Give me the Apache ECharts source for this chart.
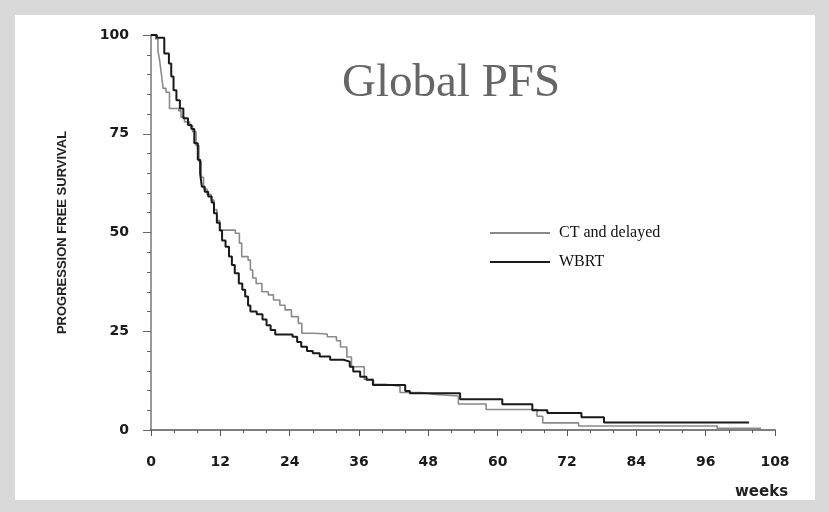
<!DOCTYPE html>
<html>
<head>
<meta charset="utf-8">
<script src="https://cdn.jsdelivr.net/npm/echarts@6/dist/echarts.min.js"></script>
<style>
  html, body { margin: 0; padding: 0; }
  #chart { width: 829px; height: 512px; }
</style>
</head>
<body>
<div id="chart"></div>
<script>
// Kaplan-Meier steps: [week, % progression free]
const ctDelayed = [
  [0, 100], [0.8, 99], [1.2, 96], [1.5, 93.5], [1.8, 90], [2.1, 86.5], [2.6, 85.5],
  [3.2, 81.4], [4.8, 80.8], [5.2, 79.2], [5.8, 78], [6.7, 77], [7.2, 75.5], [7.8, 72],
  [8.3, 68], [8.7, 64], [9.1, 61], [9.7, 59.6], [10.4, 58.2], [10.9, 55.8], [11.4, 53],
  [11.9, 50.6], [14.6, 49.8], [15.3, 47.3], [15.7, 43.9], [16.8, 43], [17.2, 40.5],
  [17.6, 38.5], [18.2, 37.1], [19.2, 35], [20.3, 34.2], [21.2, 32.9], [22.3, 31.6],
  [23.2, 30.4], [24.3, 28.7], [25.5, 27], [26.1, 24.5], [28.1, 24.3], [30.5, 23.6],
  [32.1, 22.6], [32.8, 21], [33.9, 18.5], [34.7, 16], [36.9, 12.8], [38.5, 11.6],
  [40.5, 11.1], [43.1, 9.5], [46.8, 9.0], [49.1, 8.6], [53.2, 6.6], [58, 5.2],
  [66.8, 3.5], [67.8, 1.8], [74, 1.0], [98, 0.4], [105.6, 0.4]
];
const wbrt = [
  [0, 100], [1.0, 99.3], [2.3, 95.3], [3.1, 92.8], [3.5, 89.5], [3.9, 86], [4.4, 83.5],
  [5.0, 81.4], [5.6, 78.9], [6.4, 77.2], [7.0, 76.2], [7.5, 72.6], [8.1, 68.4], [8.5, 65],
  [8.8, 61.6], [9.3, 60.3], [9.9, 59.1], [10.5, 57.6], [10.9, 54.9], [11.4, 52.5],
  [11.9, 50.5], [12.3, 48], [12.9, 46.4], [13.5, 43.9], [14.0, 41.8], [14.5, 39.7],
  [15.2, 37.1], [15.8, 35.5], [16.3, 33.8], [16.8, 31.5], [17.2, 30.0], [18.3, 29.3],
  [19.3, 28.0], [20.0, 26.5], [20.7, 25.3], [21.5, 24.2], [24.5, 23.6], [25.3, 22.3],
  [26.0, 21.1], [27.0, 20.0], [28.0, 19.4], [29.2, 18.6], [31.0, 17.8], [33.3, 17.3],
  [34.4, 16.0], [35.0, 14.8], [36.2, 13.5], [37.3, 12.7], [38.4, 11.4], [44.0, 9.9],
  [44.8, 9.3], [53.5, 7.8], [60.8, 6.5], [66.0, 5.0], [68.6, 4.3], [74.5, 3.2],
  [78.4, 1.9], [103.5, 1.9]
];
const seriesNames = ['CT and delayed', 'WBRT'];
const xTicks = [0, 12, 24, 36, 48, 60, 72, 84, 96, 108];
const yTicks = [0, 25, 50, 75, 100];

const chart = echarts.init(document.getElementById('chart'));

chart.setOption({
  backgroundColor: '#d9d9d9',
  animation: false,
  title: {
    text: 'Global PFS',
    left: 337,
    top: 55,
    textStyle: { fontFamily: 'Liberation Serif', fontSize: 47, fontWeight: 'normal', color: '#666' }
  },
  graphic: [
    { type: 'rect', z: -10, shape: { x: 15, y: 15, width: 800, height: 485 }, style: { fill: '#fff' } },
    {
      type: 'text', left: 735, top: 485,
      style: { text: 'weeks', font: 'bold 15px "DejaVu Sans"', fill: '#222' }
    }
  ],
  legend: {
    data: seriesNames,
    orient: 'vertical',
    left: 485,
    top: 220,
    itemWidth: 60,
    itemHeight: 14,
    itemGap: 13,
    icon: 'path://M0,6 L60,6 L60,8 L0,8 Z',
    textStyle: { fontFamily: 'Liberation Serif', fontSize: 16, color: '#111', padding: [0, 0, 0, 4] }
  },
  grid: { left: 151, right: 54, top: 35, bottom: 82 },
  xAxis: {
    type: 'value',
    min: 0, max: 108, interval: 12,
    axisLine: { show: true, lineStyle: { color: '#555', width: 1.5 } },
    axisTick: { show: true, length: 6, lineStyle: { color: '#555' } },
    minorTick: { show: true, splitNumber: 3, length: 3, lineStyle: { color: '#555' } },
    splitLine: { show: false },
    axisLabel: {
      margin: 25, color: '#1a1a1a',
      fontFamily: 'DejaVu Sans', fontWeight: 'bold', fontSize: 14,
      formatter: v => xTicks.includes(v) ? String(v) : ''
    }
  },
  yAxis: {
    type: 'value',
    min: 0, max: 100, interval: 25,
    name: 'PROGRESSION FREE SURVIVAL',
    nameLocation: 'middle',
    nameGap: 82,
    nameTextStyle: { fontFamily: 'Liberation Sans', fontSize: 13, fontWeight: 'bold', color: '#222' },
    axisLine: { show: true, lineStyle: { color: '#777', width: 1.5 } },
    axisTick: { show: true, length: 8, lineStyle: { color: '#666' } },
    minorTick: { show: true, splitNumber: 5, length: 4, lineStyle: { color: '#666' } },
    splitLine: { show: false },
    axisLabel: {
      margin: 22, color: '#1a1a1a',
      fontFamily: 'DejaVu Sans', fontWeight: 'bold', fontSize: 14,
      formatter: v => yTicks.includes(v) ? String(v) : ''
    }
  },
  series: [
    {
      name: seriesNames[0],
      type: 'line',
      step: 'end',
      data: ctDelayed,
      symbol: 'none',
      lineStyle: { color: '#8a8a8a', width: 1.6 },
      itemStyle: { color: '#8a8a8a' },
      z: 3
    },
    {
      name: seriesNames[1],
      type: 'line',
      step: 'end',
      data: wbrt,
      symbol: 'none',
      lineStyle: { color: '#1a1a1a', width: 2 },
      itemStyle: { color: '#1a1a1a' },
      z: 4
    }
  ]
});
</script>
</body>
</html>
